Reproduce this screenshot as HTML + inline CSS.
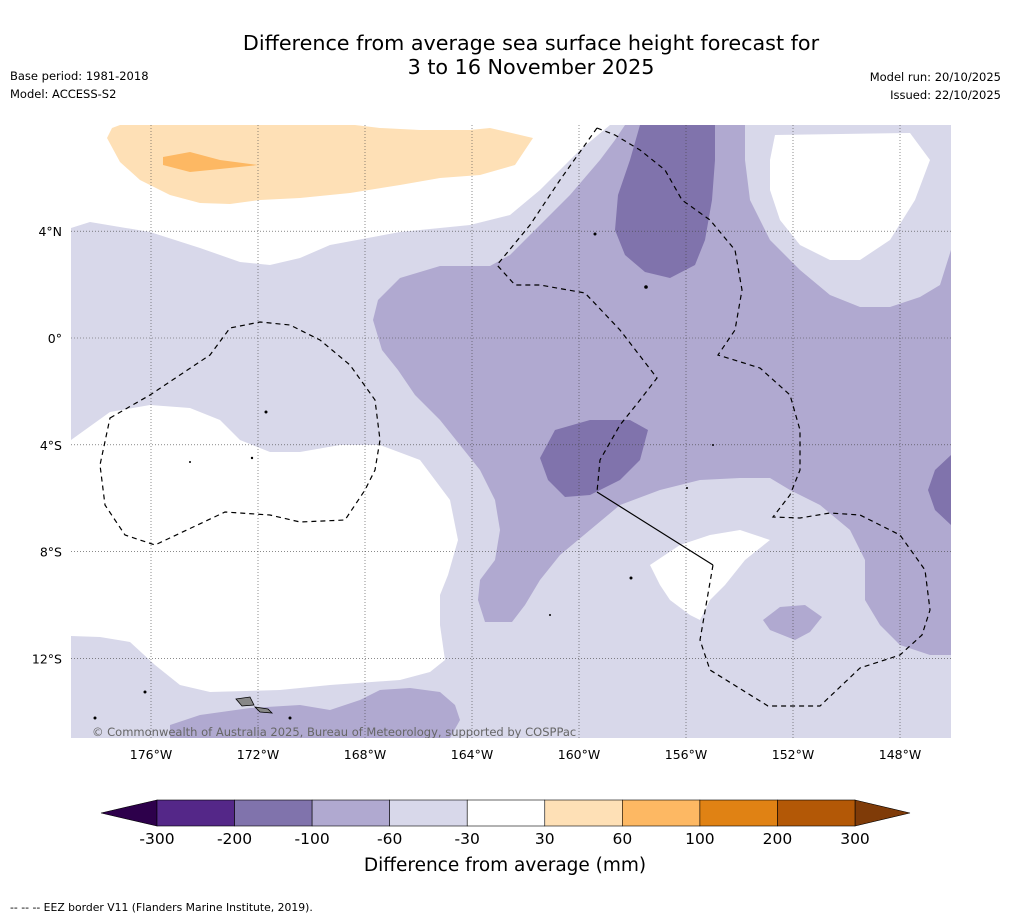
<!DOCTYPE html>
<html><head><meta charset="utf-8"><style>
body{margin:0;background:#fff;font-family:"DejaVu Sans",sans-serif;}
svg text{font-family:"DejaVu Sans","Liberation Sans",sans-serif;}
</style></head><body>
<svg id="c" width="1011" height="919" viewBox="0 0 1011 919">
<rect x="0" y="0" width="1011" height="919" fill="#fff"/>
<text x="531" y="50" text-anchor="middle" font-size="20.7" fill="#000">Difference from average sea surface height forecast for</text>
<text x="531" y="74" text-anchor="middle" font-size="20.7" fill="#000">3 to 16 November 2025</text>
<text x="10" y="80" font-size="11.5">Base period: 1981-2018</text>
<text x="10" y="98" font-size="11.5">Model: ACCESS-S2</text>
<text x="1001" y="81" font-size="11.5" text-anchor="end">Model run: 20/10/2025</text>
<text x="1001" y="99" font-size="11.5" text-anchor="end">Issued: 22/10/2025</text>
<defs><clipPath id="mc"><rect x="71" y="125" width="880" height="613"/></clipPath></defs>
<g id="map" clip-path="url(#mc)">
<rect x="71" y="125" width="880" height="613" fill="#fff"/>
<polygon fill="#fee0b6" points="120,125 355,125 380,128 420,130 470,130 490,128 533,138 515,165 480,175 440,178 400,185 350,193 300,198 260,200 230,204 200,203 170,195 140,180 120,162 107,138 112,128"/>
<polygon fill="#fdb863" points="163,157 190,152 220,160 258,165 210,170 190,172 163,165"/>
<polygon fill="#fdb863" points="217,578 220,588 222,594 214,594 213,588"/>
<polygon fill="#d8d8ea" points="71,228 90,222 150,232 200,248 240,262 270,265 300,258 330,245 400,232 470,225 510,215 540,190 580,150 610,125 951,125 951,738 71,738"/>
<polygon fill="#fff" points="71,440 110,412 150,405 190,408 220,420 240,440 270,452 300,452 340,445 380,445 420,460 450,500 458,540 448,575 440,595 440,625 445,660 430,672 400,680 330,685 280,690 210,692 180,685 155,665 130,642 100,637 71,636"/>
<polygon fill="#fff" points="775,135 910,133 930,160 915,200 890,240 860,260 830,260 800,245 780,220 770,190 770,160"/>
<polygon fill="#fff" points="650,565 680,545 710,535 740,530 770,540 745,560 725,585 710,600 700,620 690,615 670,600 660,585"/>
<polygon fill="#b0a9d0" points="625,125 745,125 745,160 750,200 770,240 800,270 830,295 860,307 890,307 920,297 940,285 951,250 951,655 930,655 900,645 880,625 865,600 865,560 850,530 820,505 790,490 770,478 740,478 700,480 660,490 620,505 590,530 560,555 540,580 525,605 512,622 485,622 478,600 480,580 495,560 500,530 495,500 480,470 460,445 440,420 415,395 398,370 382,350 373,320 378,300 400,278 440,266 490,266 510,255 540,225 570,195 600,160 615,140"/>
<polygon fill="#b0a9d0" points="763,620 780,607 805,605 822,617 810,632 795,640 770,630"/>
<polygon fill="#b0a9d0" points="170,725 200,715 250,708 300,705 330,710 360,700 380,690 410,688 440,692 455,705 460,720 450,738 170,738"/>
<polygon fill="#8073ac" points="640,125 715,125 715,160 712,200 705,240 695,265 670,278 645,272 625,255 615,230 618,195 630,160"/>
<polygon fill="#8073ac" points="540,458 555,430 590,420 630,420 648,430 640,460 620,480 590,495 565,497 548,480"/>
<polygon fill="#8073ac" points="951,455 935,470 928,490 935,510 951,525"/>
<g id="grid"></g>
<g fill="none" stroke="#000" stroke-width="1.2" stroke-dasharray="5,4">
<path d="M110,418 L150,395 L210,355 L230,328 L260,322 L290,325 L320,340 L350,365 L375,400 L380,440 L375,470 L365,490 L345,520 L300,522 L270,515 L225,512 L155,545 L125,535 L105,505 L100,465 Z"/>
<path d="M597,128 L560,180 L530,225 L497,265 L515,285 L540,285 L585,293 L620,330 L657,378 L640,400 L620,425 L600,460 L597,492"/>
<path d="M597,128 L615,135 L640,150 L665,170 L682,200 L710,220 L735,250 L742,290 L735,330 L718,355 L760,368 L790,395 L800,430 L800,470 L790,495 L773,517 L800,518 L830,513 L860,515 L900,535 L925,570 L930,610 L922,635 L900,655 L860,668 L820,706 L768,706 L710,670 L700,640 L713,565"/>
</g>
<line x1="597" y1="492" x2="713" y2="565" stroke="#000" stroke-width="1.2"/>
<g fill="#000">
<polygon points="236,699 250,697 254,705 242,706" fill="#888" stroke="#000" stroke-width="0.8"/>
<polygon points="255,707 268,709 272,713 260,712" fill="#888" stroke="#000" stroke-width="0.8"/>
<circle cx="266" cy="412" r="1.5"/><circle cx="252" cy="458" r="1.2"/><circle cx="190" cy="462" r="1"/>
<circle cx="595" cy="234" r="1.5"/><circle cx="646" cy="287" r="1.8"/><circle cx="631" cy="578" r="1.5"/>
<circle cx="145" cy="692" r="1.5"/><circle cx="95" cy="718" r="1.5"/><circle cx="290" cy="718" r="1.5"/>
<circle cx="550" cy="615" r="1"/><circle cx="713" cy="445" r="1"/><circle cx="687" cy="488" r="1"/>
</g>
<text x="92" y="736" font-size="11.5" fill="#666">© Commonwealth of Australia 2025, Bureau of Meteorology, supported by COSPPac</text>
</g>
<g id="axes"></g>
<g id="cbar"></g>
<text x="505" y="871" text-anchor="middle" font-size="18.5">Difference from average (mm)</text>
<text x="10" y="911" font-size="10.8">--  --  -- EEZ border V11 (Flanders Marine Institute, 2019).</text>
</svg>
<script>
const lonTicks=[-176,-172,-168,-164,-160,-156,-152,-148];
const lonLabels=["176°W","172°W","168°W","164°W","160°W","156°W","152°W","148°W"];
const latTicks=[4,0,-4,-8,-12];
const latLabels=["4°N","0°","4°S","8°S","12°S"];
const levelLabels=["-300","-200","-100","-60","-30","30","60","100","200","300"];
const levelColors=["#542788","#8073ac","#b0a9d0","#d8d8ea","#ffffff","#fee0b6","#fdb863","#e08214","#b35806"];
const NS="http://www.w3.org/2000/svg";
const xLon=l=>151+(l+176)*26.75, yLat=l=>338-l*26.7;
function mk(t,a,p){const e=document.createElementNS(NS,t);for(const k in a)e.setAttribute(k,a[k]);p.appendChild(e);return e;}
const grid=document.getElementById('grid'),axes=document.getElementById('axes'),cb=document.getElementById('cbar');
lonTicks.forEach((l,i)=>{
 const g=mk('line',{x1:xLon(l),x2:xLon(l),y1:125,y2:738,stroke:'#444','stroke-width':0.6,'stroke-dasharray':'1,2'},grid);
 
 
 const t=mk('text',{x:xLon(l),y:759,'text-anchor':'middle','font-size':12.5},axes);t.textContent=lonLabels[i];
 
 
});
latTicks.forEach((l,i)=>{
 const g=mk('line',{x1:71,x2:951,y1:yLat(l),y2:yLat(l),stroke:'#444','stroke-width':0.6,'stroke-dasharray':'1,2'},grid);
 
 
 const t=mk('text',{x:62,y:yLat(l)+5,'text-anchor':'end','font-size':12.5},axes);t.textContent=latLabels[i];
 
 
});
const x0=157,x1=855,y0=800,h=26,w=(x1-x0)/levelColors.length;
const lt=mk('polygon',{points:`${x0},${y0} 101,${y0+h/2} ${x0},${y0+h}`,fill:'#2d004b',stroke:'#000','stroke-width':0.6},cb);


const rt=mk('polygon',{points:`${x1},${y0} 910,${y0+h/2} ${x1},${y0+h}`,fill:'#7f3b08',stroke:'#000','stroke-width':0.6},cb);


levelColors.forEach((c,i)=>{
 const r=mk('rect',{x:x0+i*w,y:y0,width:w,height:h,fill:c,stroke:'#000','stroke-width':0.6},cb);
 
 
});
levelLabels.forEach((s,i)=>{
 const t=mk('text',{x:x0+i*w,y:844,'text-anchor':'middle','font-size':15.5},cb);t.textContent=s;
 
 
});
</script>
</body></html>
